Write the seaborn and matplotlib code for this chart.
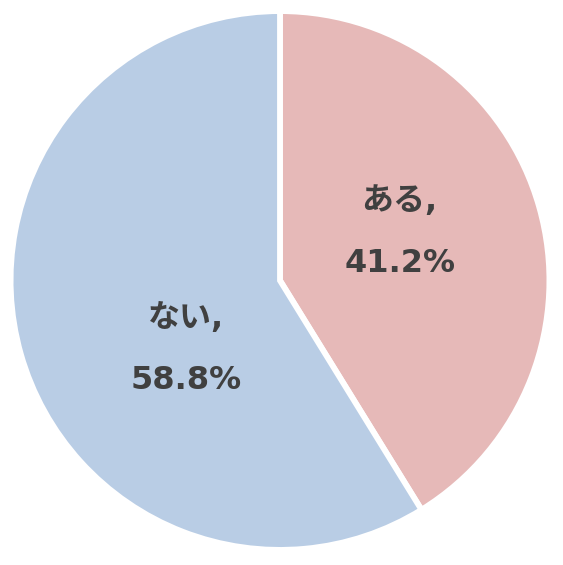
import matplotlib
matplotlib.use("Agg")
import matplotlib.pyplot as plt
import seaborn as sns

labels = ["ある", "ない"]
values = [41.2, 58.8]
colors = ["#E6B9B8", "#B9CDE5"]

sns.set_style("white")
plt.rcParams['font.family'] = ['DejaVu Sans', 'Noto Sans CJK JP']

fig = plt.figure(figsize=(5.63, 5.65), dpi=100)
ax = fig.add_axes([13 / 563, 18 / 565, 534 / 563, 533 / 565])

ax.pie(values, colors=colors, startangle=90, counterclock=False,
       radius=1.011,
       wedgeprops=dict(edgecolor="white", linewidth=4.2))

# label positions, tuned by eye to match the original
label_pos = [(0.449, 0.18), (-0.352, -0.258)]
for (x, y), lab, v in zip(label_pos, labels, values):
    ax.text(x, y, f"{lab},\n\n{v:.1f}%", ha="center", va="center",
            fontsize=23, fontweight="bold", color="#404040", linespacing=1.0)

ax.set_xlim(-1, 1)
ax.set_ylim(-1, 1)
ax.set_aspect("equal")
ax.axis("off")

fig.savefig("out.png", dpi=100)
